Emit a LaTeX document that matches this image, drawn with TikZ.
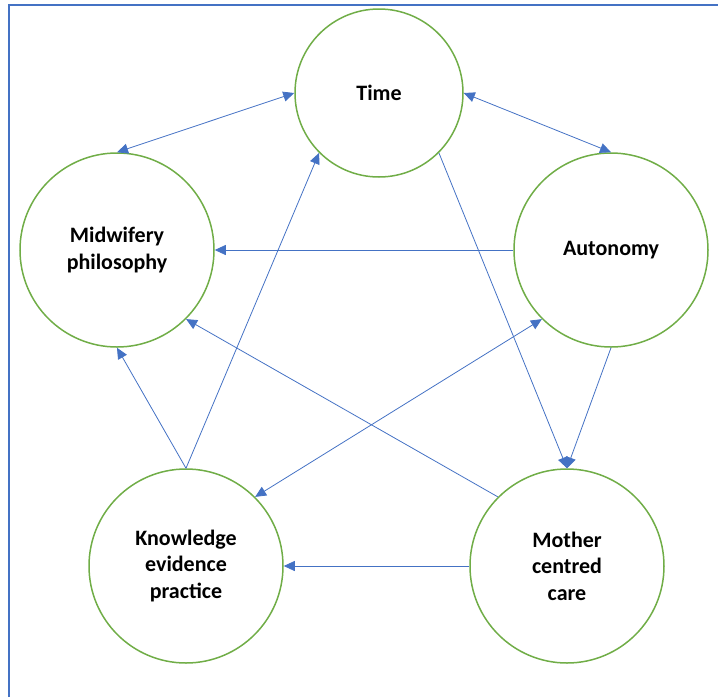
\documentclass[tikz,border=0pt]{standalone}
\usepackage{fontspec}
\setmainfont{Carlito}
\usepackage{tikz}
\usetikzlibrary{arrows.meta}
\definecolor{ringgreen}{RGB}{112,173,71}
\definecolor{linkblue}{RGB}{68,114,196}
\tikzset{%
  myedge/.style={draw=linkblue, line width=0.8pt, >={Triangle[length=11pt,width=10pt]}},
  mynode/.style={circle, draw=ringgreen, line width=1.5pt, align=center,
    font=\bfseries\fontsize{22}{26.5}\selectfont, inner sep=0pt}
}

\begin{document}
\begin{tikzpicture}[x=1pt, y=-1pt]
  \useasboundingbox (0,0) rectangle (718,697);

% frame
\draw [linkblue, line width=1.5pt] (9,697) -- (9,5) -- (718,5);

\node (time) [mynode, minimum size=168pt] at (379,93)  {Time};
\node (mid)  [mynode, minimum size=194pt] at (117,250) {Midwifery\\philosophy};
\node (aut)  [mynode, minimum size=194pt] at (611,250) {Autonomy};
\node (kep)  [mynode, minimum size=194pt] at (186,566) {Knowledge\\evidence\\practice};
\node (moc)  [mynode, minimum size=194pt] at (567,566) {Mother\\centred\\care};

\draw [myedge, <->] (mid.north) -- (time.west);
\draw [myedge, <->] (time.east) -- (aut.north);
\draw [myedge, ->] (aut.west) -- (mid.east);
\draw [myedge, ->] (time.-45) -- (moc.north);
\draw [myedge, ->] (aut.south) -- (moc.north);
\draw [myedge, ->] (kep.north) -- (mid.south);
\draw [myedge, ->] (kep.north) -- (time.-135);
\draw [myedge, ->] (moc.135) -- (mid.-45);
\draw [myedge, <->] (aut.-135) -- (kep.45);
\draw [myedge, ->] (moc.west) -- (kep.east);
\end{tikzpicture}
\end{document}
